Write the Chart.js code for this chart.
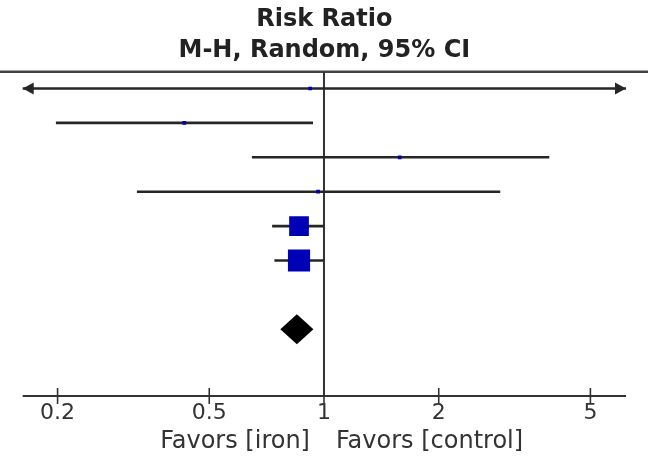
<!DOCTYPE html>
<html><head><meta charset="utf-8">
<script src="https://cdn.jsdelivr.net/npm/chart.js@4/dist/chart.umd.min.js"></script>
<style>html,body{margin:0;padding:0;background:#fff}#wrap{width:648px;height:462px;position:relative}</style>
</head><body><div id="wrap"><canvas id="c"></canvas></div>
<script>
// ---- data ----
const studies    = ['Study 1','Study 2','Study 3','Study 4','Study 5','Study 6'];
const rowIndex   = [0, 1, 2, 3, 4, 5];
const riskRatio  = [0.92, 0.43, 1.58, 0.965, 0.86, 0.86];
const ciLower    = [0.05, 0.198, 0.647, 0.323, 0.731, 0.741];
const ciUpper    = [20, 0.936, 3.90, 2.90, 1.0, 1.0];
const weightPct  = [1.5, 1.5, 1.5, 1.5, 41.5, 52.5];
const pooledRow  = [7];
const pooledRR   = [0.849];
const pooledLow  = [0.768];
const pooledHigh = [0.938];
const tickValues = [0.2, 0.5, 1, 2, 5];
const tickLabels = ['0.2', '0.5', '1', '2', '5'];
const titleLines = ['Risk Ratio', 'M-H, Random, 95% CI'];
const favorsLeft  = 'Favors [iron]';
const favorsRight = 'Favors [control]';

const FONT = "'DejaVu Sans', 'Verdana', sans-serif";
const LINE = '#262626';
const BLUE = '#0000b4';

const ciDatasets = rowIndex.map((r, i) => ({
  type: 'line',
  label: studies[i] + ' CI',
  data: [{x: ciLower[i], y: r}, {x: ciUpper[i], y: r}],
  borderColor: LINE,
  borderWidth: 2.6,
  pointRadius: 0,
  order: 2
}));

const markerDataset = {
  type: 'scatter',
  label: 'Risk ratio',
  data: rowIndex.map((r, i) => ({x: riskRatio[i], y: r})),
  pointStyle: 'rect',
  pointRadius: weightPct.map(w => 3.06 * Math.sqrt(w) / Math.SQRT2),
  pointHoverRadius: weightPct.map(w => 3.06 * Math.sqrt(w) / Math.SQRT2),
  backgroundColor: BLUE,
  borderColor: BLUE,
  borderWidth: 0,
  order: 0
};

const forestPlugin = {
  id: 'forest',
  beforeDatasetsDraw(chart) {
    const {ctx, chartArea: a, scales: {x}} = chart;
    ctx.save();
    // header rule
    ctx.strokeStyle = '#444';
    ctx.lineWidth = 2.4;
    ctx.beginPath(); ctx.moveTo(0, a.top); ctx.lineTo(chart.width, a.top); ctx.stroke();
    // line of no effect
    const x1 = x.getPixelForValue(1);
    ctx.strokeStyle = '#333';
    ctx.lineWidth = 2;
    ctx.beginPath(); ctx.moveTo(x1, a.top); ctx.lineTo(x1, a.bottom); ctx.stroke();
    ctx.restore();
  },
  afterDatasetsDraw(chart) {
    const {ctx, chartArea: a, scales: {x, y}} = chart;
    ctx.save();
    // arrows for CIs beyond the axis range
    ctx.fillStyle = LINE;
    rowIndex.forEach((r, i) => {
      const py = y.getPixelForValue(r);
      if (ciLower[i] < x.min) {
        ctx.beginPath(); ctx.moveTo(a.left, py); ctx.lineTo(a.left + 11, py - 6); ctx.lineTo(a.left + 11, py + 6); ctx.closePath(); ctx.fill();
      }
      if (ciUpper[i] > x.max) {
        ctx.beginPath(); ctx.moveTo(a.right, py); ctx.lineTo(a.right - 11, py - 6); ctx.lineTo(a.right - 11, py + 6); ctx.closePath(); ctx.fill();
      }
    });
    // pooled diamond
    ctx.fillStyle = '#000';
    pooledRow.forEach((r, i) => {
      const py = y.getPixelForValue(r);
      const xl = x.getPixelForValue(pooledLow[i]);
      const xm = x.getPixelForValue(pooledRR[i]);
      const xr = x.getPixelForValue(pooledHigh[i]);
      ctx.beginPath(); ctx.moveTo(xl, py); ctx.lineTo(xm, py - 15); ctx.lineTo(xr, py); ctx.lineTo(xm, py + 15); ctx.closePath(); ctx.fill();
    });
    // x axis line and crossing tick marks
    ctx.strokeStyle = '#333';
    ctx.lineWidth = 2.2;
    ctx.beginPath(); ctx.moveTo(a.left, a.bottom); ctx.lineTo(a.right, a.bottom); ctx.stroke();
    ctx.lineWidth = 1.6;
    tickValues.forEach(v => {
      const px = x.getPixelForValue(v);
      ctx.beginPath(); ctx.moveTo(px, a.bottom - 8); ctx.lineTo(px, a.bottom + 8); ctx.stroke();
    });
    // favours labels
    const x1 = x.getPixelForValue(1);
    ctx.fillStyle = '#333';
    ctx.font = "24px " + FONT;
    ctx.textBaseline = 'middle';
    ctx.textAlign = 'right'; ctx.fillText(favorsLeft, x1 - 14, 442);
    ctx.textAlign = 'left';  ctx.fillText(favorsRight, x1 + 12, 442);
    ctx.restore();
  }
};

new Chart(document.getElementById('c'), {
  data: { datasets: [markerDataset, ...ciDatasets] },
  options: {
    responsive: true,
    maintainAspectRatio: false,
    animation: false,
    events: [],
    layout: { padding: { left: 22.7, right: 22, top: 0, bottom: 0 } },
    plugins: {
      legend: { display: false },
      tooltip: { enabled: false },
      title: {
        display: true,
        text: titleLines,
        color: '#222',
        font: { family: FONT, size: 24, weight: 'bold', lineHeight: 1.3 },
        padding: { top: 4, bottom: 5.4 }
      }
    },
    scales: {
      x: {
        type: 'logarithmic',
        min: 0.162,
        max: 6.2,
        grid: { display: false, drawTicks: false },
        border: { display: false },
        afterBuildTicks: s => { s.ticks = tickValues.map(v => ({ value: v })); },
        afterFit: s => { s.height = 66; },
        ticks: {
          autoSkip: false,
          maxRotation: 0,
          padding: 4,
          color: '#333',
          font: { family: FONT, size: 22 },
          callback: (v, i) => tickLabels[i]
        }
      },
      y: {
        type: 'linear',
        display: false,
        reverse: true,
        min: -0.4855,
        max: 8.939
      }
    }
  },
  plugins: [forestPlugin]
});
</script>
</body></html>
